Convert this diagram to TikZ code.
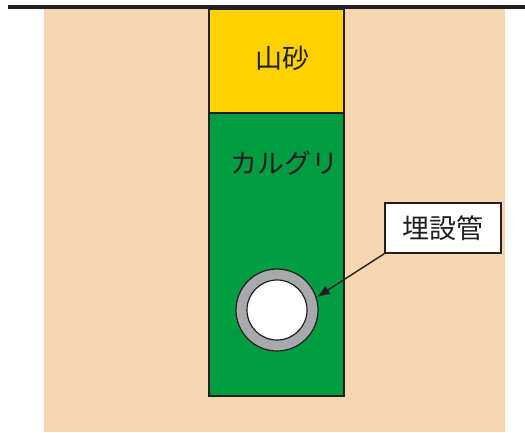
\documentclass[tikz,border=0pt]{standalone}
\usepackage{fontspec}
\newfontfamily\jpfont{Noto Sans CJK JP}
\usetikzlibrary{arrows.meta,calc}

\definecolor{soil}{RGB}{246,214,176}
\definecolor{sand}{RGB}{255,210,0}
\definecolor{gravel}{RGB}{0,156,66}
\definecolor{pipegray}{RGB}{167,169,172}
\definecolor{ink}{RGB}{35,31,32}

\tikzset{
  layer/.style={draw=ink, line width=2.6pt},
  tag/.style={font=\jpfont\fontsize{27}{30}\selectfont, text=ink},
  callout/.style={draw=ink, line width=1.4pt, fill=white, tag, minimum width=116pt, minimum height=50pt, inner sep=0pt}
}

\begin{document}
\begin{tikzpicture}[x=1pt,y=-1pt]

  % Fix the page size
  \useasboundingbox[fill=white] (0,0) rectangle (525,432);

  % Ground around the trench
  \fill[soil] (44,9) rectangle (505,432);

  % Ground surface
  \draw[ink, line width=3.6pt] (8,7) -- (525,7);

  % Backfill layers in the trench
  \filldraw[layer, fill=sand] (209,9) rectangle (344,113);
  \filldraw[layer, fill=gravel] (209,113) rectangle (344,396);

  % Layer labels
  \node[tag] (sand) at (282,58) {山砂};
  \node[tag] (gravel) at (284,163) {カルグリ};

  % Buried pipe
  \coordinate (P) at (277,310);
  \def\Ro{41}
  \def\Ri{30}
  \filldraw[ink, line width=1.2pt, fill=pipegray] (P) circle (\Ro);
  \filldraw[ink, line width=1.2pt, fill=white] (P) circle (\Ri);
  \coordinate (rim) at ($(P)+(-18:42)$);

  % Callout box and its arrow
  \node[callout] (pipe) at (443,228) {埋設管};
  \draw[ink, line width=1.4pt, -{Latex[length=13pt,width=10pt]}] (pipe.south west) -- (rim);

\end{tikzpicture}
\end{document}
